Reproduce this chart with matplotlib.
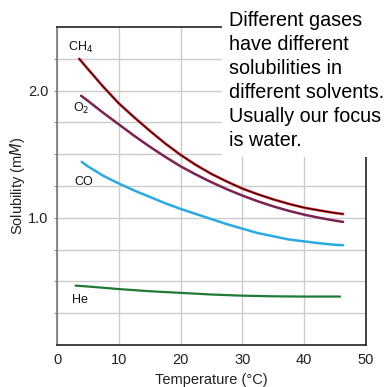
import matplotlib.pyplot as plt
from matplotlib.patches import Rectangle

plt.rcParams['font.family'] = ['Liberation Sans', 'DejaVu Sans']

# readings (temperature in C, solubility in mM)
t_ch4 = [3.6, 5, 7.5, 10, 12.5, 15, 17.5, 20, 22.5, 25, 27.5, 30, 32.5, 35, 37.5, 40, 42.5, 45, 46.3]
s_ch4 = [2.25, 2.17, 2.03, 1.90, 1.79, 1.685, 1.585, 1.495, 1.415, 1.345, 1.285, 1.23,
         1.185, 1.145, 1.11, 1.08, 1.058, 1.038, 1.03]

t_o2 = [3.9, 5, 7.5, 10, 12.5, 15, 17.5, 20, 22.5, 25, 27.5, 30, 32.5, 35, 37.5, 40, 42.5, 45, 46.3]
s_o2 = [1.96, 1.92, 1.825, 1.735, 1.645, 1.56, 1.48, 1.405, 1.34, 1.28, 1.225, 1.175,
        1.13, 1.09, 1.055, 1.025, 1.0, 0.978, 0.968]

t_co = [4.0, 5, 7.5, 10, 12.5, 15, 17.5, 20, 22.5, 25, 27.5, 30, 32.5, 35, 37.5, 40, 42.5, 45, 46.3]
s_co = [1.44, 1.405, 1.33, 1.27, 1.215, 1.165, 1.115, 1.07, 1.03, 0.99, 0.95, 0.915,
        0.88, 0.855, 0.83, 0.815, 0.80, 0.788, 0.785]

t_he = [3.0, 5, 10, 15, 20, 25, 30, 35, 40, 45.8]
s_he = [0.467, 0.46, 0.44, 0.423, 0.41, 0.397, 0.388, 0.383, 0.381, 0.381]

xticks = [0, 10, 20, 30, 40, 50]
ygrid = [0.25, 0.5, 0.75, 1.0, 1.25, 1.5, 1.75, 2.0, 2.25]
ylabels = {1.0: '1.0', 2.0: '2.0'}

note = ("Different gases\nhave different\nsolubilities in\n"
        "different solvents.\nUsually our focus\nis water.")

fig = plt.figure(figsize=(3.91, 3.87), dpi=100)
ax = fig.add_axes([0.1458, 0.1085, 0.7902, 0.8215])

ax.set_xlim(0, 50)
ax.set_ylim(0, 2.5)
ax.set_xticks(xticks)
ax.set_yticks(ygrid)
ax.set_yticklabels([ylabels.get(v, '') for v in ygrid])
ax.grid(True, color='#cccccc', linewidth=1.0)
ax.set_axisbelow(True)
ax.tick_params(axis='x', length=0, pad=6, labelsize=10.5, colors='#222222')
ax.tick_params(axis='y', length=2, color='#999999', pad=4, labelsize=10.5, labelcolor='#222222')
for sp in ax.spines.values():
    sp.set_color('#222222')
    sp.set_linewidth(1.2)
ax.spines['left'].set_color('#777777')

ax.plot(t_ch4, s_ch4, color='#e8202a', lw=1.9, solid_capstyle='round')
ax.plot(t_ch4, s_ch4, color='black', lw=0.7)
ax.plot(t_o2, s_o2, color='#7a2352', lw=1.8, solid_capstyle='round')
ax.plot(t_co, s_co, color='#2aaae2', lw=1.8, solid_capstyle='round')
ax.plot(t_he, s_he, color='#1f7a35', lw=1.6, solid_capstyle='round')

ax.text(1.7, 2.31, 'CH$_4$', fontsize=9, color='#111111')
ax.text(2.6, 1.83, 'O$_2$', fontsize=9, color='#111111')
ax.text(2.8, 1.26, 'CO', fontsize=9, color='#111111')
ax.text(2.4, 0.33, 'He', fontsize=9, color='#111111')

ax.set_xlabel('Temperature (°C)', fontsize=10.5, color='#222222', labelpad=4)
ax.set_ylabel('Solubility (m$\\mathit{M}$)', fontsize=10.5, color='#222222', labelpad=1)

# white box covering the top-right corner, holding the note
fig.patches.append(Rectangle((222 / 391, 1 - 157 / 387), 1, 1, transform=fig.transFigure,
                             facecolor='white', edgecolor='none', zorder=5))
fig.text(229 / 391, 1 - 11 / 387, note, fontsize=14.2, va='top', ha='left',
         linespacing=1.34, color='black', zorder=6)

fig.savefig('out.png', dpi=100)
